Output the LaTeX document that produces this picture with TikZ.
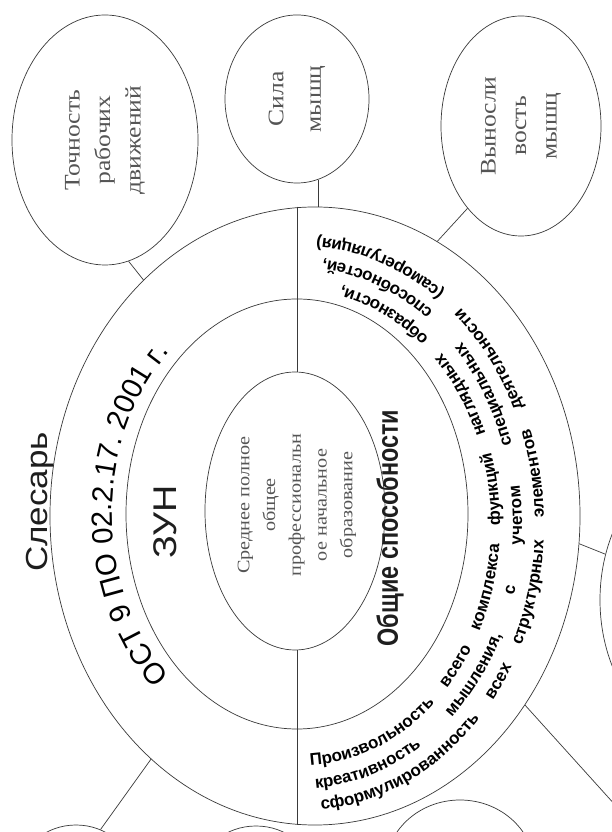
\documentclass[tikz,border=0pt]{standalone}
\usepackage{fontspec}
\setmainfont{Liberation Serif}
\setsansfont{Liberation Sans}
\usetikzlibrary{shapes.geometric,decorations.text}
\definecolor{SketchLine}{HTML}{3A3A3A}
\definecolor{SketchInk}{HTML}{1E1E1E}
\definecolor{SketchSoft}{HTML}{555555}

\begin{document}
\begin{tikzpicture}[x=0.03cm,y=0.03cm,
    ring/.style={draw=SketchLine,line width=0.6pt,ellipse,inner sep=0pt},
    link/.style={draw=SketchLine,line width=0.6pt},
    upright/.style={rotate=90,xscale=1.15,align=center},
    trait/.style={upright,text=SketchSoft,font=\fontsize{19}{26}\selectfont},
    arctext/.style={decorate,decoration={text along path,text align=center,
      text={|\sffamily\fontsize{25}{27}\selectfont|#1}}},
    ringtext/.style={decorate,decoration={text along path,
      text align=fit to path stretching spaces,
      text={|\sffamily\bfseries\fontsize{14.5}{16}\selectfont|#1}}}]
  \useasboundingbox (0,0) rectangle (612,832);
  \fill[white] (0,0) rectangle (612,832);

  \node[ring,minimum width=15.9cm,minimum height=18.54cm] (outer) at (315,316) {};
  \node[ring,minimum width=10.26cm,minimum height=12.9cm] (middle) at (297,318) {};
  \node[ring,minimum width=5.4cm,minimum height=8.34cm] (inner) at (295,321) {};
  \draw[link] (middle.north |- outer.north) -- (middle.north |- inner.north);
  \draw[link] (middle.south |- inner.south) -- (middle.south |- outer.south);

  \node[ring,minimum width=5.58cm,minimum height=7.5cm] (accuracy) at (105,692) {};
  \node[ring,minimum width=4.32cm,minimum height=5.04cm] (strength) at (297,733) {};
  \node[ring,minimum width=4.8cm,minimum height=6.6cm] (endurance) at (521,706) {};
  \node[ring,minimum width=3.3cm,minimum height=2.82cm] (cutleft) at (76,-40) {};
  \node[ring,minimum width=3.3cm,minimum height=2.76cm] (cutmid) at (256,-40) {};
  \node[ring,minimum width=4.5cm,minimum height=4.2cm] (cutright) at (460,-38) {};
  \node[ring,minimum width=7.2cm,minimum height=9cm] (cutside) at (720,232) {};
  \node[ring,minimum width=3.6cm,minimum height=3.6cm] (cutcorner) at (700,-67) {};

  \draw[link] (accuracy.-79) -- (outer.126);
  \draw[link] (strength.-75) -- (strength.-75 |- outer.north);
  \draw[link] (endurance.237) -- (outer.66);
  \draw[link] (outer.236) -- (cutleft.60);
  \draw[link] (outer.-42) -- (cutcorner);
  \draw[link] (outer.-6) -- (cutside);

  \node[trait] (accuracytext) at (accuracy) {Точность\\рабочих\\движений};
  \node[trait,font=\fontsize{19}{32}\selectfont] (strengthtext) at (strength) {Сила\\мышц};
  \node[trait] (endurancetext) at (endurance) {Выносли\\вость\\мышц};

  \node[upright,text=SketchInk,font=\sffamily\fontsize{26}{30}\selectfont] (title) at (40,330) {Слесарь};
  \node[upright,text=SketchInk,font=\sffamily\fontsize{28}{30}\selectfont] (zun) at (165,310) {ЗУН};
  \node[upright,text=SketchSoft,font=\fontsize{15}{22}\selectfont] (level) at (297,327)
    {Среднее полное\\общее\\профессиональн\\ое начальное\\образование};
  \node[rotate=90,xscale=0.8,text=SketchInk,font=\sffamily\bfseries\fontsize{25}{27}\selectfont]
    (general) at (390,304) {Общие способности};

  \path[arctext={ОСТ 9 ПО 02.2.17. 2001 г.}]
    ([shift={(297,318)}]235:5.55cm and 6.72cm) arc[start angle=235,end angle=125,x radius=5.55cm,y radius=6.72cm];
  \path[ringtext={Произвольность всего комплекса функций наглядных образности,}]
    ([shift={(300,308)}]-87:6cm and 7.26cm) arc[start angle=-87,end angle=78,x radius=6cm,y radius=7.26cm];
  \path[ringtext={креативность мышления, с учетом специальных способностей,}]
    ([shift={(300,308)}]-86:6.66cm and 7.95cm) arc[start angle=-86,end angle=84,x radius=6.66cm,y radius=7.95cm];
  \path[ringtext={сформулированность всех структурных элементов деятельности (саморегуляция)}]
    ([shift={(300,308)}]-85:7.32cm and 8.61cm) arc[start angle=-85,end angle=86,x radius=7.32cm,y radius=8.61cm];
\end{tikzpicture}
\end{document}
